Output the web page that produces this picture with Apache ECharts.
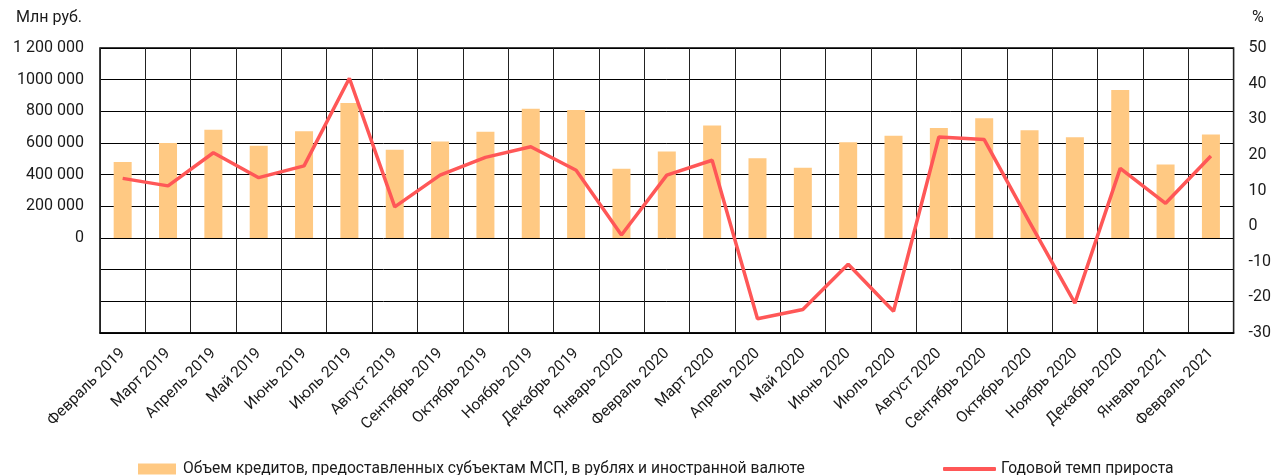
<!DOCTYPE html>
<html>
<head>
<meta charset="utf-8">
<script src="https://cdn.jsdelivr.net/npm/echarts@6/dist/echarts.min.js"></script>
<style>
  html, body { margin: 0; padding: 0; background: #fff; }
  #chart { width: 1274px; height: 475px; }
</style>
</head>
<body>
<div id="chart"></div>
<script>
// Months, Feb 2019 - Feb 2021
const months = [
  'Февраль 2019', 'Март 2019', 'Апрель 2019', 'Май 2019', 'Июнь 2019', 'Июль 2019',
  'Август 2019', 'Сентябрь 2019', 'Октябрь 2019', 'Ноябрь 2019', 'Декабрь 2019',
  'Январь 2020', 'Февраль 2020', 'Март 2020', 'Апрель 2020', 'Май 2020', 'Июнь 2020',
  'Июль 2020', 'Август 2020', 'Сентябрь 2020', 'Октябрь 2020', 'Ноябрь 2020',
  'Декабрь 2020', 'Январь 2021', 'Февраль 2021'
];

// credit volume, mln rub (left axis)
const volume = [
  480000, 600000, 683000, 583000, 675000, 852000,
  557000, 610000, 671000, 816000, 809000,
  438000, 547000, 711000, 503000, 444000, 604000,
  646000, 694000, 757000, 681000, 637000,
  935000, 465000, 654000
];

// yearly growth, % (right axis)
const growth = [
  13.4, 11.3, 20.6, 13.6, 16.9, 41.5,
  5.4, 14.3, 19.3, 22.3, 15.7,
  -2.5, 14.3, 18.5, -26.0, -23.4, -10.7,
  -23.9, 25.0, 24.3, 1.1, -21.6,
  16.2, 6.4, 19.7
];

// left axis tick labels (only non-negative ones are shown)
const leftTickValues = [0, 200000, 400000, 600000, 800000, 1000000, 1200000];
const leftTickLabels = ['0', '200 000', '400 000', '600 000', '800 000', '1000 000', '1 200 000'];

const volumeName = 'Объем кредитов, предоставленных субъектам МСП, в рублях и иностранной валюте';
const growthName = 'Годовой темп прироста';

const FONT = 'Roboto';
const TEXT = '#1a1a1a';
const BAR_COLOR = '#FFC983';
const LINE_COLOR = '#FF5757';

const chart = echarts.init(document.getElementById('chart'));

const option = {
  backgroundColor: '#fff',
  animation: false,
  textStyle: { fontFamily: FONT, color: TEXT },
  grid: {
    left: 100,
    right: 39,
    top: 48,
    bottom: 142,
    show: true,
    borderColor: '#000',
    borderWidth: 1.5,
  },
  graphic: [
    {
      type: 'text',
      left: 16,
      top: 10,
      style: { text: 'Млн руб.', fontFamily: FONT, fontSize: 16, fill: TEXT },
    },
    {
      type: 'text',
      left: 1252,
      top: 10,
      style: { text: '%', fontFamily: FONT, fontSize: 16, fill: TEXT },
    },
  ],
  legend: [
    {
      data: [volumeName],
      left: 133,
      top: 456,
      itemWidth: 38,
      itemHeight: 11,
      icon: 'rect',
      textStyle: { fontFamily: FONT, fontSize: 15.6, color: TEXT, padding: [0, 0, 0, 2] },
    },
    {
      data: [growthName],
      left: 938,
      top: 456,
      itemWidth: 53,
      itemHeight: 4,
      icon: 'roundRect',
      textStyle: { fontFamily: FONT, fontSize: 15.6, color: TEXT, padding: [0, 0, 0, 0] },
    },
  ],
  xAxis: {
    type: 'category',
    data: months,
    boundaryGap: true,
    axisLine: { show: true, onZero: false, lineStyle: { color: '#000', width: 1.5 } },
    axisTick: { show: false },
    splitLine: { show: true, interval: 0, lineStyle: { color: '#222', width: 1 } },
    axisLabel: {
      interval: 0,
      rotate: 45,
      fontFamily: FONT,
      fontSize: 15.5,
      color: TEXT,
      margin: 18,
    },
  },
  yAxis: [
    {
      type: 'value',
      min: -600000,
      max: 1200000,
      interval: 200000,
      axisLine: { show: false },
      axisTick: { show: false },
      splitLine: { show: true, lineStyle: { color: '#000', width: 1 } },
      axisLabel: {
        fontFamily: FONT,
        fontSize: 16,
        color: TEXT,
        margin: 16,
        formatter: (v) => {
          const i = leftTickValues.indexOf(v);
          return i >= 0 ? leftTickLabels[i] : '';
        },
      },
    },
    {
      type: 'value',
      min: -30,
      max: 50,
      interval: 10,
      position: 'right',
      axisLine: { show: false },
      axisTick: { show: false },
      splitLine: { show: false },
      axisLabel: {
        fontFamily: FONT,
        fontSize: 16,
        color: TEXT,
        margin: 15,
      },
    },
  ],
  series: [
    {
      name: volumeName,
      type: 'bar',
      yAxisIndex: 0,
      data: volume,
      barWidth: 18,
      itemStyle: { color: BAR_COLOR },
    },
    {
      name: growthName,
      type: 'line',
      yAxisIndex: 1,
      data: growth,
      symbol: 'none',
      lineStyle: { color: LINE_COLOR, width: 3.5 },
      itemStyle: { color: LINE_COLOR },
    },
  ],
};

chart.setOption(option);
</script>
</body>
</html>
